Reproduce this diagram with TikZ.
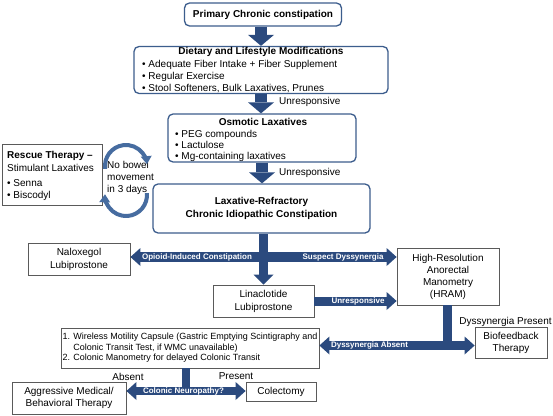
\documentclass[tikz,border=0pt]{standalone}
\usepackage{fontspec}
\setmainfont{Liberation Sans}
\usetikzlibrary{arrows.meta}
\definecolor{boxblue}{RGB}{60,93,141}
\definecolor{arrowblue}{RGB}{43,74,126}
\definecolor{circblue}{RGB}{70,108,160}
\definecolor{boxgray}{RGB}{90,90,90}
\newcommand\fsz[2]{\fontsize{#1}{#2}\selectfont}
\begin{document}
\begin{tikzpicture}[x=1pt,y=-1pt,
  bluebox/.style={draw=boxblue, line width=1.3pt, rounded corners=5pt, fill=white, inner sep=0pt, align=center},
  graybox/.style={draw=boxgray, line width=0.8pt, fill=white, inner sep=0pt, align=center, font=\fsz{10}{12.5}},
  txt/.style={inner sep=0pt, font=\fsz{10}{12}},
  bartext/.style={inner sep=0pt, text=white, font=\bfseries\fsz{8}{9}},
  mainarrow/.style={draw=arrowblue, line width=12pt, -{Triangle[width=26pt,length=11pt,line width=0pt]}},
  bluebar/.style={draw=arrowblue, line width=#1},
  onehead/.style={-{Triangle[width=18pt,length=10pt,line width=0pt]}},
  twohead/.style={{Triangle[width=18pt,length=10pt,line width=0pt]}-{Triangle[width=18pt,length=10pt,line width=0pt]}},
  circarrow/.style={draw=circblue, line width=4pt, -{Triangle[width=11pt,length=8pt,line width=0pt]}}
]
\useasboundingbox (0,0) rectangle (553,415);
\fill[white] (0,0) rectangle (553,415);

% helper coordinates
\coordinate (ax) at (261,0);
\coordinate (ax2) at (262,0);
\coordinate (bx) at (263.5,0);
\coordinate (hx) at (447.5,0);
\coordinate (wx) at (185.5,0);
\coordinate (hy) at (0,257);
\coordinate (dy) at (0,345.5);
\coordinate (cy) at (0,391);

% boxes
\node[bluebox, minimum width=157pt, minimum height=23pt, font=\bfseries\fsz{10}{12}] (prim) at (263,14.5) {Primary Chronic constipation};

\node[bluebox, minimum width=254pt, minimum height=47pt] (diet) at (261,70) {};
\node[txt, font=\bfseries\fsz{10}{12}] (diettitle) at (261,52) {Dietary and Lifestyle Modifications};
\node[txt, anchor=west, align=left] (dietlist) at (142,76.5) {• Adequate Fiber Intake + Fiber Supplement\\• Regular Exercise\\• Stool Softeners, Bulk Laxatives, Prunes};

\node[bluebox, minimum width=188pt, minimum height=48pt] (osm) at (262,138) {};
\node[txt, font=\bfseries\fsz{10}{12}] (osmtitle) at (263,122) {Osmotic Laxatives};
\node[txt, anchor=west, align=left, font=\fsz{10}{11}] (osmlist) at (175,145.5) {• PEG compounds\\• Lactulose\\• Mg-containing laxatives};

\node[bluebox, minimum width=217pt, minimum height=49pt, font=\bfseries\fsz{10}{12.5}] (lax) at (261.5,208.5) {Laxative-Refractory\\Chronic Idiopathic Constipation};

\node[graybox, minimum width=100pt, minimum height=61pt] (resc) at (52,174.5) {};
\node[txt, anchor=west, align=left, font=\fsz{10}{12.5}] (resctext) at (7,176) {\textbf{Rescue Therapy –}\\Stimulant Laxatives\\[2.5pt]• Senna\\• Biscodyl};

\node[txt, anchor=west, align=left] (nobowel) at (107,177.5) {No bowel\\movement\\in 3 days};

\node[graybox, minimum width=102pt, minimum height=32pt, font=\fsz{10}{13}] (nal) at (79,259) {Naloxegol\\Lubiprostone};
\node[graybox, minimum width=102pt, minimum height=57pt, font=\fsz{10}{12}] (hram) at (448,276.5) {High-Resolution\\Anorectal\\Manometry\\(HRAM)};
\node[graybox, minimum width=101pt, minimum height=32pt, font=\fsz{10}{13}] (lin) at (263.5,301) {Linaclotide\\Lubiprostone};
\node[graybox, minimum width=72pt, minimum height=31pt, font=\fsz{10}{12}] (bio) at (511,342.5) {Biofeedback\\Therapy};
\node[graybox, minimum width=258pt, minimum height=40pt, align=left, font=\fsz{9}{10.5}] (wmc) at (190,348) {1. Wireless Motility Capsule (Gastric Emptying Scintigraphy and\\\phantom{1. }Colonic Transit Test, if WMC unavailable)\\2. Colonic Manometry for delayed Colonic Transit};
\node[graybox, minimum width=114pt, minimum height=32pt, font=\fsz{10}{12}] (agg) at (69,398) {Aggressive Medical/\\Behavioral Therapy};
\node[graybox, minimum width=70pt, minimum height=19pt] (col) at (281,391.5) {Colectomy};

% main vertical arrows
\draw[mainarrow] (prim.south -| ax) -- (diet.north -| ax);
\draw[mainarrow] (diet.south -| ax) -- (osm.north -| ax);
\draw[mainarrow] (osm.south -| ax2) -- (lax.north -| ax2);
\node[txt, anchor=west] (unr1) at (279,101.5) {Unresponsive};
\node[txt, anchor=west] (unr2) at (279,172.5) {Unresponsive};

% circular arrows
\draw[circarrow] (105.2,168.9) arc[start angle=188, end angle=5, radius=21pt];
\draw[circarrow] (146.9,193.2) arc[start angle=5, end angle=-182, radius=21pt];

% lower bars
\draw[bluebar=10pt, twohead] (nal.east |- hy) -- (hram.west |- hy);
\draw[bluebar=9pt, {Triangle[width=20pt,length=10pt,line width=0pt]}-] (lin.north -| bx) -- (lax.south -| bx);
\draw[bluebar=9pt, onehead] (lin.east) -- (lin.east -| hram.west);
\draw[bluebar=9pt] (hram.south -| hx) -- (hx |- dy);
\draw[bluebar=9pt, twohead] (wmc.east |- dy) -- (bio.west |- dy);
\draw[bluebar=8pt] (wmc.south -| wx) -- (wx |- cy);
\draw[bluebar=8pt, twohead] (agg.east |- cy) -- (col.west |- cy);

% bar labels
\node[bartext] (opioid) at (197,257) {Opioid-Induced Constipation};
\node[bartext] (suspect) at (343,257) {Suspect Dyssynergia};
\node[bartext] (unr3) at (358,301) {Unresponsive};
\node[bartext] (dabs) at (369.5,345.5) {Dyssynergia Absent};
\node[bartext] (cneur) at (183.5,391) {Colonic Neuropathy?};

% plain labels
\node[txt] (dysp) at (505.5,322) {Dyssynergia Present};
\node[txt] (absent) at (128,376.5) {Absent};
\node[txt] (present) at (236,376.5) {Present};
\end{tikzpicture}
\end{document}
